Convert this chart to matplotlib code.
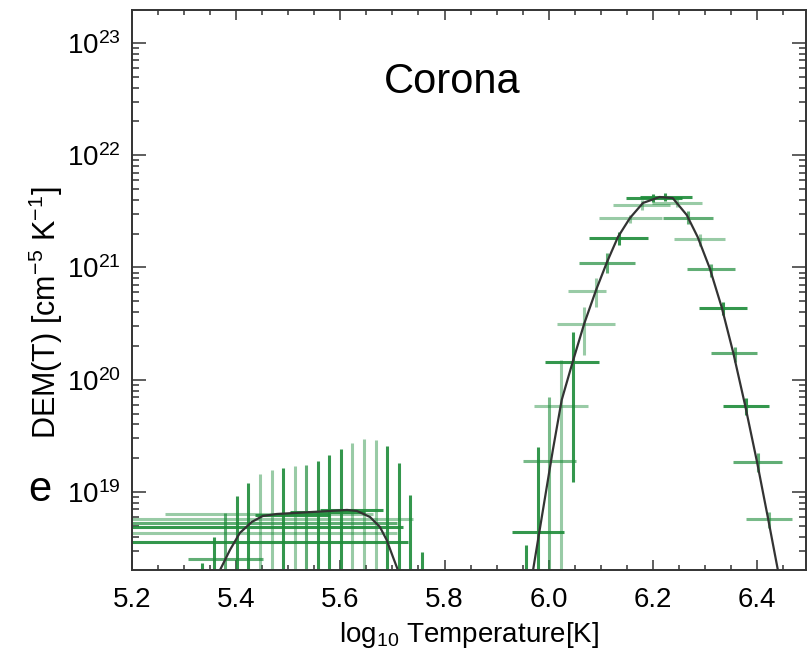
import numpy as np
import matplotlib
matplotlib.use("Agg")
import matplotlib.pyplot as plt
from matplotlib.ticker import MultipleLocator, LogLocator, NullFormatter

plt.rcParams['font.family'] = ['Liberation Sans', 'DejaVu Sans']
plt.rcParams['mathtext.fontset'] = 'custom'
plt.rcParams['mathtext.rm'] = 'Liberation Sans'
plt.rcParams['mathtext.it'] = 'Liberation Sans:italic'

# fitted DEM curve, log10 T vs log10 DEM (two separate pieces)
curve_cool_t = [5.369, 5.388, 5.407, 5.430, 5.451, 5.478, 5.547, 5.613, 5.632, 5.657, 5.676, 5.689, 5.701, 5.709]
curve_cool_l = [18.305, 18.483, 18.635, 18.733, 18.786, 18.804, 18.822, 18.840, 18.831, 18.777, 18.688, 18.572, 18.421, 18.323]
curve_hot_t = [5.970, 6.008, 6.025, 6.046, 6.068, 6.091, 6.112, 6.133, 6.156, 6.181, 6.213, 6.238, 6.265, 6.286,
               6.309, 6.332, 6.354, 6.377, 6.400, 6.421, 6.440]
curve_hot_l = [18.305, 19.374, 19.820, 20.158, 20.497, 20.800, 21.049, 21.272, 21.441, 21.575, 21.628, 21.619,
               21.468, 21.272, 20.996, 20.648, 20.247, 19.775, 19.267, 18.768, 18.305]

# regularised inversion points: temperature, log DEM, x range, log DEM range, opacity
pt_t = [5.334, 5.357, 5.379, 5.401, 5.423, 5.446, 5.468, 5.490, 5.512, 5.534, 5.557, 5.579, 5.601, 5.623,
        5.646, 5.668, 5.690, 5.712, 5.734, 5.757,
        5.957, 5.979, 6.001, 6.023, 6.046, 6.068, 6.090, 6.112, 6.135, 6.157, 6.179, 6.201, 6.223, 6.246,
        6.268, 6.290, 6.312, 6.335, 6.357, 6.379, 6.401, 6.423]
pt_l = [17.9, 17.9, 18.403, 17.9, 18.555, 18.635, 18.804, 18.688, 18.759, 18.724, 18.795, 18.822, 18.840, 17.9,
        17.9, 17.9, 17.9, 17.9, 17.9, 17.9,
        18.0, 18.644, 19.276, 19.766, 20.158, 20.497, 20.791, 21.040, 21.263, 21.441, 21.557, 21.619, 21.628, 21.575,
        21.441, 21.254, 20.987, 20.639, 20.238, 19.766, 19.267, 18.759]
pt_t_lo = [5.334, 5.357, 5.3075, 5.401, 5.10, 5.10, 5.263, 5.10, 5.10, 5.10, 5.436, 5.503, 5.561, 5.623,
           5.646, 5.668, 5.690, 5.712, 5.734, 5.757,
           5.957, 5.929, 5.951, 5.972, 5.993, 6.016, 6.037, 6.058, 6.077, 6.096, 6.123, 6.148, 6.175, 6.198,
           6.219, 6.240, 6.265, 6.288, 6.311, 6.334, 6.354, 6.379]
pt_t_hi = [5.334, 5.357, 5.451, 5.401, 5.730, 5.709, 5.663, 5.720, 5.739, 5.709, 5.580, 5.647, 5.682, 5.623,
           5.646, 5.668, 5.690, 5.712, 5.734, 5.757,
           5.957, 6.029, 6.052, 6.075, 6.096, 6.127, 6.110, 6.166, 6.190, 6.217, 6.233, 6.256, 6.275, 6.294,
           6.315, 6.338, 6.357, 6.380, 6.400, 6.423, 6.448, 6.467]
pt_l_lo = [17.5] * 20 + [17.5, 17.5, 17.5, 17.5, 19.089, 20.220, 20.648, 20.951, 21.200, 21.396, 21.512, 21.584,
                         21.592, 21.539, 21.388, 21.192, 20.915, 20.577, 20.158, 19.686, 19.178, 18.679]
pt_l_hi = [18.368, 18.599, 18.813, 18.964, 19.080, 19.160, 19.196, 19.214, 19.232, 19.241, 19.276, 19.330,
           19.383, 19.437, 19.472, 19.463, 19.410, 19.258, 18.973, 18.465,
           18.528, 19.401, 19.846, 20.176, 20.425, 20.648, 20.906, 21.129, 21.316, 21.468, 21.601, 21.655,
           21.664, 21.610, 21.503, 21.298, 21.031, 20.693, 20.292, 19.837, 19.347, 18.822]
pt_alpha = [0.9, 0.9, 0.7, 0.9, 0.9, 0.45, 0.45, 0.9, 0.45, 0.7, 0.9, 0.9, 0.9, 0.45,
            0.45, 0.45, 0.9, 0.9, 0.9, 0.9,
            0.9, 0.9, 0.6, 0.45, 0.9, 0.45, 0.45, 0.7, 0.9, 0.45, 0.45, 0.9, 0.9, 0.45,
            0.7, 0.45, 0.7, 0.9, 0.7, 0.9, 0.7, 0.6]

green = '#1e8c3a'

fig = plt.figure(figsize=(8.08, 6.56), dpi=100)
ax = fig.add_axes([132/808, 86/656, 674/808, 560/656])

for t, l, tlo, thi, llo, lhi, a in zip(pt_t, pt_l, pt_t_lo, pt_t_hi, pt_l_lo, pt_l_hi, pt_alpha):
    d = 10**l
    ax.errorbar(t, d, xerr=[[t - tlo], [thi - t]], yerr=[[d - 10**llo], [10**lhi - d]],
                fmt='none', ecolor=green, elinewidth=2.2, capsize=0, alpha=a)

ax.plot(curve_cool_t, 10**np.array(curve_cool_l), color='#333333', lw=1.6)
ax.plot(curve_hot_t, 10**np.array(curve_hot_l), color='#333333', lw=1.6)

ax.set_yscale('log')
ax.set_xlim(5.2, 6.494)
ax.set_ylim(10**18.305, 10**23.294)

ax.xaxis.set_major_locator(MultipleLocator(0.2))
ax.xaxis.set_minor_locator(MultipleLocator(0.05))
ax.xaxis.set_major_formatter(plt.FuncFormatter(lambda v, p: '%.1f' % v))
ax.yaxis.set_major_locator(LogLocator(base=10, numticks=10))
ax.yaxis.set_minor_locator(LogLocator(base=10, subs=np.arange(2, 10), numticks=20))
ax.yaxis.set_minor_formatter(NullFormatter())

ax.tick_params(which='both', direction='in', top=True, right=True, colors='#333333', labelcolor='black')
ax.tick_params(axis='x', which='major', length=7, width=1.1, pad=12, labelsize=20)
ax.tick_params(axis='x', which='minor', length=3.6, width=1.1)
ax.tick_params(axis='y', which='major', length=10, width=1.1, pad=8, labelsize=20)
ax.tick_params(axis='y', which='minor', length=5, width=1.1)
for s in ax.spines.values():
    s.set_linewidth(1.4)
    s.set_color('#333333')

ax.set_xlabel(r'log$_{10}$ Temperature[K]', fontsize=20)
ax.xaxis.set_label_coords(0.5, -0.09)
ax.set_ylabel(r'DEM(T) [cm$^{-5}$ K$^{-1}$]', fontsize=22)
ax.yaxis.set_label_coords(-0.1, 0.46)

fig.text(452/808, 1 - 82/656, 'Corona', fontsize=30, ha='center', va='center')
fig.text(40/808, 1 - 490/656, 'e', fontsize=30, ha='center', va='center')

fig.savefig('out.png', dpi=100)
